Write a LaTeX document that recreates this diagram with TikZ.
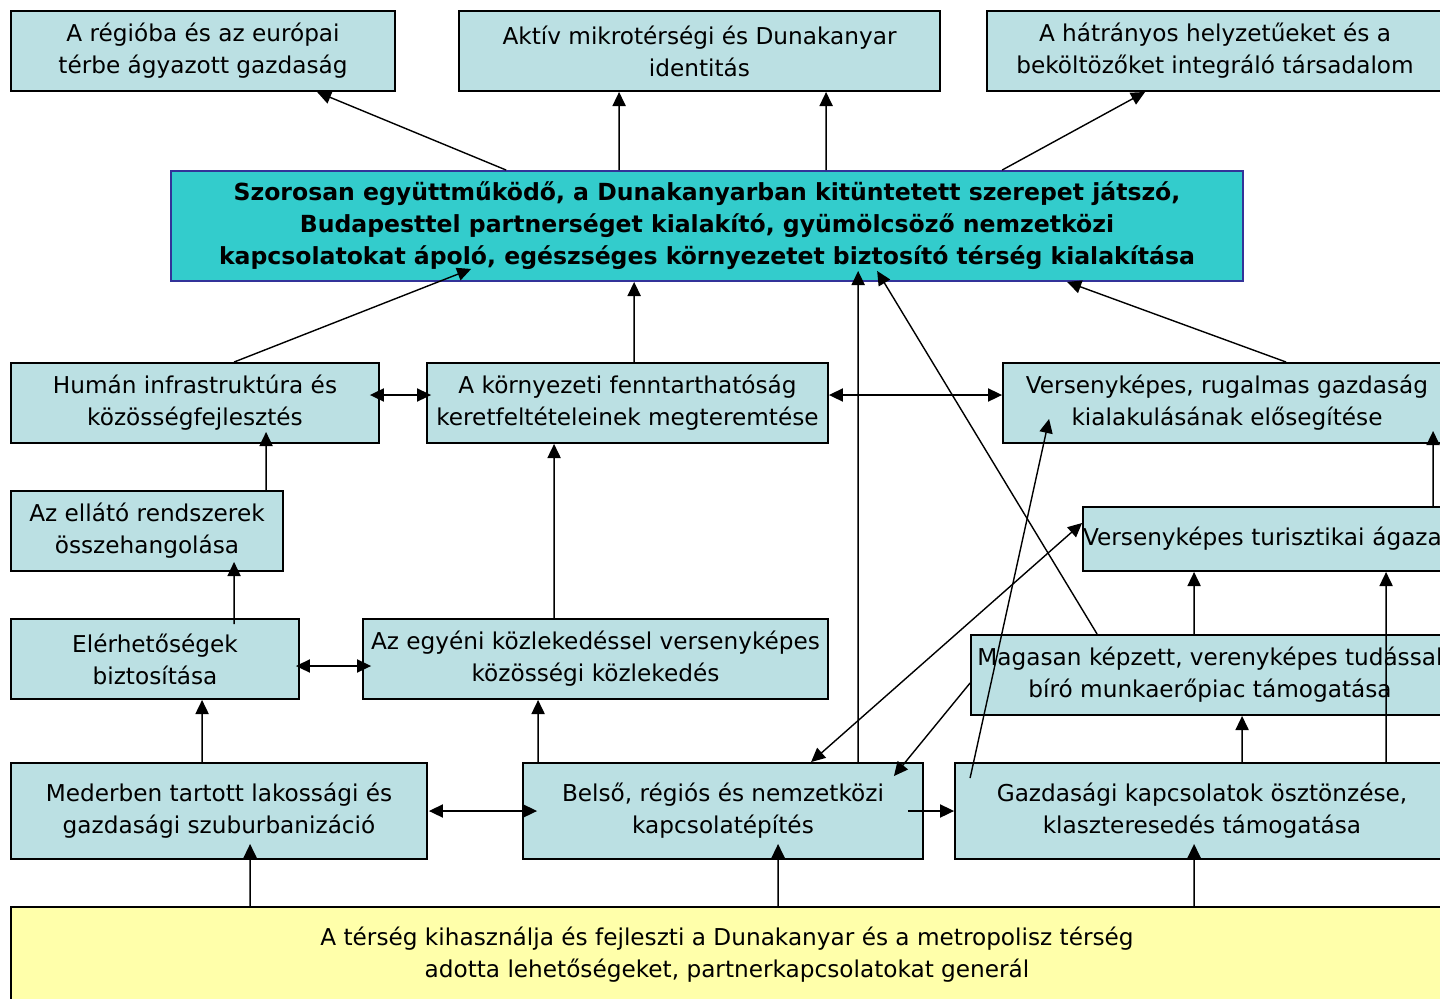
\documentclass[tikz,border=0pt]{standalone}
\usepackage{fontspec}
\setmainfont{DejaVu Sans}
\usetikzlibrary{arrows.meta, calc}
\definecolor{boxblue}{RGB}{187,224,227}
\definecolor{celcyan}{RGB}{51,204,204}
\definecolor{celedge}{RGB}{51,51,153}
\definecolor{alapyellow}{RGB}{255,255,170}

\begin{document}
\begin{tikzpicture}[x=0.02cm, y=-0.02cm,
		box/.style={draw=black, line width=1.1pt, fill=boxblue, align=center, inner xsep=2pt,
			minimum height=1.6cm, font=\fontsize{13.2pt}{18.2pt}\selectfont},
		arr/.style={-{Triangle[length=8pt,width=7.5pt]}, line width=0.8pt},
		darr/.style={{Triangle[length=8pt,width=7.5pt]}-{Triangle[length=8pt,width=7.5pt]}, line width=0.8pt}]
	\useasboundingbox (0,0) rectangle (1440,998);
	\clip (0,0) rectangle (1440,998);

	% felso sor
	\node[box, minimum width=7.68cm] (reg) at (203,51) {A régióba és az európai\\térbe ágyazott gazdaság};
	\node[box, minimum width=9.62cm] (akt) at (699.5,51) {Aktív mikrotérségi és Dunakanyar\\identitás};
	\node[box, minimum width=9.12cm] (hat) at (1215,51) {A hátrányos helyzetűeket és a\\beköltözőket integráló társadalom};

	% celkitűzés
	\node[box, draw=celedge, fill=celcyan, minimum width=21.44cm, minimum height=2.2cm,
		font=\bfseries\fontsize{13.4pt}{18.2pt}\selectfont] (cel) at (707,226)
		{Szorosan együttműködő, a Dunakanyarban kitüntetett szerepet játszó,\\
		 Budapesttel partnerséget kialakító, gyümölcsöző nemzetközi\\
		 kapcsolatokat ápoló, egészséges környezetet biztosító térség kialakítása};

	% prioritasok
	\node[box, minimum width=7.36cm] (hum) at (195,403) {Humán infrastruktúra és\\közösségfejlesztés};
	\node[box, minimum width=8.02cm] (kor) at (627.5,403) {A környezeti fenntarthatóság\\keretfeltételeinek megteremtése};
	\node[box, minimum width=8.96cm] (ver) at (1227,403) {Versenyképes, rugalmas gazdaság\\kialakulásának elősegítése};

	% intezkedesek
	\node[box, minimum width=5.44cm] (ell) at (147,531) {Az ellátó rendszerek\\összehangolása};
	\node[box, minimum width=7.36cm, minimum height=1.28cm, inner xsep=0pt, text width=7.36cm, align=left] (tur) at (1267,539)
		{Versenyképes turisztikai ágazat};
	\node[box, minimum width=5.76cm] (ele) at (155,659) {Elérhetőségek\\biztosítása};
	\node[box, minimum width=9.3cm] (egy) at (595.5,659) {Az egyéni közlekedéssel versenyképes\\közösségi közlekedés};
	\node[box, minimum width=9.56cm] (mag) at (1210,675) {Magasan képzett, verenyképes tudással\\bíró munkaerőpiac támogatása};
	\node[box, minimum width=8.32cm, minimum height=1.92cm] (med) at (219,811) {Mederben tartott lakossági és\\gazdasági szuburbanizáció};
	\node[box, minimum width=8cm, minimum height=1.92cm] (bel) at (723,811) {Belső, régiós és nemzetközi\\kapcsolatépítés};
	\node[box, minimum width=9.88cm, minimum height=1.92cm] (gaz) at (1202,811) {Gazdasági kapcsolatok ösztönzése,\\klaszteresedés támogatása};

	% alap
	\node[box, fill=alapyellow, minimum width=28.64cm, minimum height=1.92cm] (alap) at (727,955)
		{A térség kihasználja és fejleszti a Dunakanyar és a metropolisz térség\\adotta lehetőségeket, partnerkapcsolatokat generál};

	% nyilak felfele
	\draw[arr] ($(cel.north west)+(336,0)$) -- ($(reg.south west)+(307,0)$);
	\draw[arr] ($(cel.north west)+(449,0)$) -- ($(akt.south west)+(161,0)$);
	\draw[arr] ($(cel.north west)+(656,0)$) -- ($(akt.south west)+(368,0)$);
	\draw[arr] ($(cel.north west)+(832,0)$) -- ($(hat.south west)+(159,0)$);

	\draw[arr] ($(hum.north west)+(224,0)$) -- ($(cel.south west)+(301,-13)$);
	\draw[arr] ($(kor.north west)+(208,0)$) -- ($(cel.south west)+(464,0)$);
	\draw[arr] ($(ver.north west)+(284,0)$) -- ($(cel.south west)+(897,0)$);
	\draw[darr] ($(hum.east)+(-10,-8)$) -- ($(kor.west)+(5,-8)$);
	\draw[darr] ($(kor.east)+(0,-8)$) -- ($(ver.west)+(0,-8)$);

	\draw[arr] ($(ell.north west)+(256,0)$) -- ($(hum.south west)+(256,-12)$);
	\draw[arr] ($(ele.north west)+(224,6)$) -- ($(ell.south west)+(224,-10)$);
	\draw[darr] ($(ele.east)+(-4,7)$) -- ($(egy.west)+(9,7)$);
	\draw[arr] ($(egy.north west)+(192,0)$) -- ($(kor.south west)+(128,0)$);

	\draw[arr] ($(med.north west)+(192,0)$) -- ($(ele.south west)+(192,0)$);
	\draw[arr] ($(bel.north west)+(16,0)$) -- ($(egy.south west)+(176,0)$);
	\draw[darr] ($(med.east)+(1,0)$) -- ($(bel.west)+(15,0)$);
	\draw[arr] ($(bel.east)+(-16,0)$) -- (gaz.west);

	% keresztbe meno nyilak
	\draw[arr] ($(bel.north west)+(336,0)$) -- ($(cel.south west)+(688,-11)$);
	\draw[arr] ($(mag.north west)+(127,0)$) -- ($(cel.south west)+(707,-11)$);
	\draw[darr] ($(bel.north west)+(289,0)$) -- ($(tur.west)+(0,-16)$);
	\draw[arr] ($(mag.west)+(0,8)$) -- ($(bel.north east)+(-30,14)$);
	\draw[arr] ($(gaz.north west)+(16,16)$) -- ($(ver.south west)+(47,-25)$);

	\draw[arr] ($(tur.north west)+(351,0)$) -- ($(ver.south west)+(431,-13)$);
	\draw[arr] ($(mag.north west)+(224,0)$) -- ($(tur.south west)+(112,0)$);
	\draw[arr] ($(gaz.north west)+(432,0)$) -- ($(tur.south west)+(304,0)$);
	\draw[arr] ($(gaz.north west)+(288,0)$) -- ($(mag.south west)+(272,0)$);

	\draw[arr] ($(alap.north west)+(240,0)$) -- ($(med.south west)+(240,-16)$);
	\draw[arr] ($(alap.north west)+(768,0)$) -- ($(bel.south west)+(256,-16)$);
	\draw[arr] ($(alap.north west)+(1184,0)$) -- ($(gaz.south west)+(240,-16)$);
\end{tikzpicture}
\end{document}
